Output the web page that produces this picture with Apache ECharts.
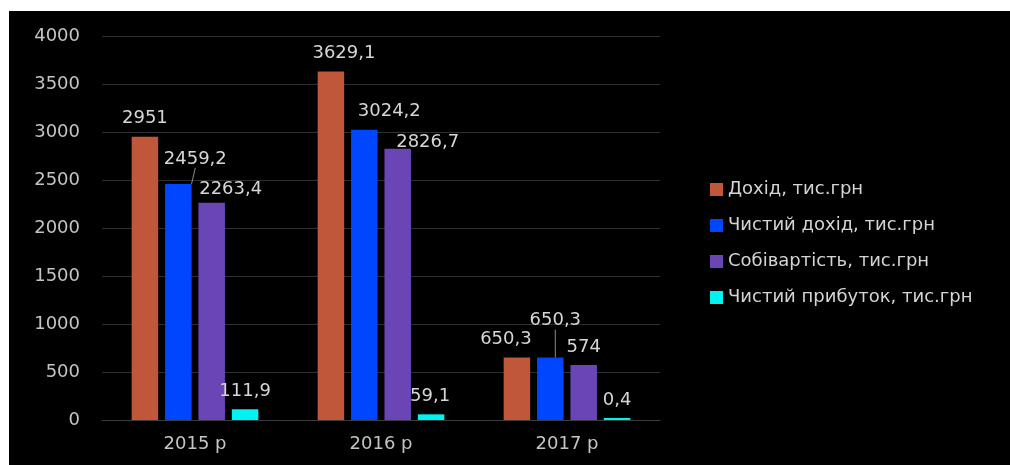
<!DOCTYPE html>
<html>
<head>
<meta charset="utf-8">
<script src="https://cdn.jsdelivr.net/npm/echarts@6/dist/echarts.min.js"></script>
<style>
  html, body { margin: 0; padding: 0; background: #fff; }
  #chart {
    position: absolute;
    left: 9px;
    top: 11px;
    width: 1001px;
    height: 454px;
    background: #000;
  }
</style>
</head>
<body>
<div id="chart"></div>
<script>
const years = ['2015 р', '2016 р', '2017 р']
const seriesNames = ['Дохід, тис.грн', 'Чистий дохід, тис.грн', 'Собівартість, тис.грн', 'Чистий прибуток, тис.грн']
const income = [2951, 3629.1, 650.3]
const netIncome = [2459.2, 3024.2, 650.3]
const cost = [2263.4, 2826.7, 574]
const netProfit = [111.9, 59.1, 0.4]
const yTicks = [0, 500, 1000, 1500, 2000, 2500, 3000, 3500, 4000]

// label shifts (px) per series/category
const labelShift = [
  [[0, 0], [13, 0], [-11, 0]],
  [[17, -7], [25, 0], [5, -19]],
  [[19, 5], [30, 12], [0, 0]],
  [[0, 0], [-1, 0], [0, 0]]
]
const withLine = [[], [0, 2], [], []]
const colors = ['#c0573a', '#0046ff', '#6a45b6', '#00f2f2']
const font = 'DejaVu Sans'

const fmt = v => String(v).replace('.', ',')

const chart = echarts.init(document.getElementById('chart'))
const allData = [income, netIncome, cost, netProfit]

const option = {
  backgroundColor: '#000',
  animation: false,
  textStyle: { fontFamily: font },
  legend: {
    orient: 'vertical',
    left: 696,
    top: 163,
    icon: 'rect',
    itemWidth: 13,
    itemHeight: 13,
    itemGap: 15,
    textStyle: { color: '#d4d4d4', fontSize: 18, lineHeight: 21, fontFamily: font },
    data: seriesNames
  },
  grid: { left: 93, right: 350, top: 25, bottom: 45 },
  xAxis: {
    type: 'category',
    data: years,
    axisLine: { lineStyle: { color: '#3c3c3c' } },
    axisTick: { show: false },
    axisLabel: { color: '#c4c4c4', fontSize: 18, margin: 15, fontFamily: font }
  },
  yAxis: {
    type: 'value',
    min: yTicks[0],
    max: yTicks[yTicks.length - 1],
    interval: 500,
    axisLine: { show: false },
    axisTick: { show: false },
    axisLabel: { color: '#c4c4c4', fontSize: 18, margin: 22, fontFamily: font, formatter: v => String(v) },
    splitLine: { lineStyle: { color: '#2e2e2e' } }
  },
  series: allData.map((arr, si) => ({
    name: seriesNames[si],
    type: 'bar',
    barWidth: 26.5,
    barGap: '26%',
    barMinHeight: 2,
    itemStyle: { color: colors[si] },
    label: {
      show: true,
      position: 'top',
      distance: 9,
      color: '#d6d6d6',
      fontSize: 18,
      fontFamily: font,
      formatter: p => fmt(p.value)
    },
    labelLine: { show: withLine[si].length > 0, lineStyle: { color: '#8a8a8a', width: 1 } },
    labelLayout: p => {
      const s = labelShift[si][p.dataIndex]
      return { dx: s[0], dy: s[1] }
    },
    data: arr.map((v, i) => ({
      value: v,
      labelLine: { show: withLine[si].indexOf(i) >= 0 }
    }))
  }))
}
chart.setOption(option)
</script>
</body>
</html>
